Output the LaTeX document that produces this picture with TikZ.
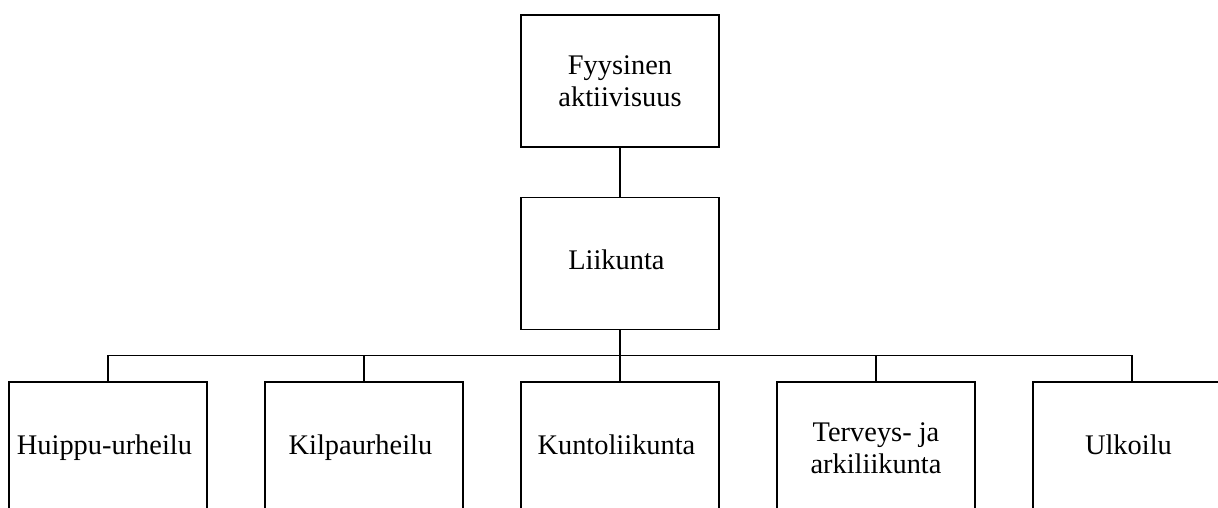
\documentclass[tikz,border=0pt]{standalone}
\usepackage{fontspec}
\setmainfont{Liberation Serif}
\usepackage{tikz}
\usetikzlibrary{positioning}
\tikzset{
    box/.style={
      rectangle,
      draw=black, line width=1pt,
      minimum width=4.95cm,
      minimum height=3.3cm,
      inner sep=2pt,
      align=center,
      font=\fontsize{20.2}{22.4}\selectfont,
    },
    oneline/.style={
      text height=2.5ex,
      text depth=0.6ex,
    },
    link/.style={
      draw=black, line width=1pt,
    },
}
\begin{document}
\begin{tikzpicture}

    \clip (0,0) rectangle (30.45,12.7);

    \node[box] (FYYS) at (15.5,10.675)
    {
      Fyysinen\\
      aktiivisuus
    };

    \node[box, oneline,
    below of=FYYS,
    node distance=4.5625cm] (LIIK)
    {
      Liikunta
    };

    \node[box, oneline,
    below of=LIIK,
    node distance=4.6125cm] (KUNT)
    {
      Kuntoliikunta
    };

    \node[box, oneline,
    left of=KUNT,
    node distance=6.4cm] (KILP)
    {
      Kilpaurheilu
    };

    \node[box, oneline,
    left of=KILP,
    node distance=6.4cm] (HUIP)
    {
      Huippu-urheilu
    };

    \node[box,
    right of=KUNT,
    node distance=6.4cm] (TERV)
    {
      Terveys- ja\\
      arkiliikunta
    };

    \node[box, oneline,
    right of=TERV,
    node distance=6.4cm] (ULKO)
    {
      Ulkoilu
    };

    \coordinate (BUS) at ([yshift=0.65cm]KUNT.north);

    \path[link]
    (FYYS) -- (LIIK)
    (LIIK) -- (KUNT)
    (HUIP.north) |- (BUS) -| (ULKO.north)
    (KILP.north) -- (KILP.north |- BUS)
    (TERV.north) -- (TERV.north |- BUS);

\end{tikzpicture}
\end{document}
